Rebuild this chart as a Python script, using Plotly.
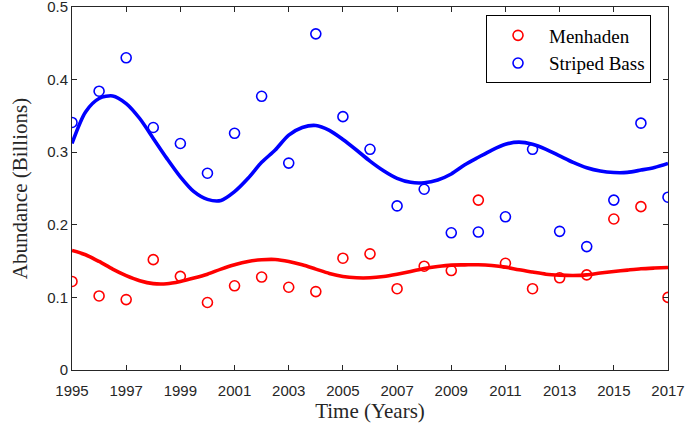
import plotly.graph_objects as go

years = list(range(1995, 2018))
menhaden = [0.122, 0.102, 0.097, 0.152, 0.129, 0.093, 0.116, 0.128, 0.114, 0.108, 0.154,
            0.160, 0.112, 0.143, 0.137, 0.234, 0.147, 0.112, 0.127, 0.131, 0.208, 0.225, 0.100]
striped_bass = [0.341, 0.384, 0.430, 0.334, 0.312, 0.271, 0.326, 0.377, 0.285, 0.463, 0.349,
                0.304, 0.226, 0.249, 0.189, 0.190, 0.211, 0.304, 0.191, 0.170, 0.234, 0.340, 0.238]

fit_t = [1995 + 0.5 * i for i in range(45)]
fit_bass = [0.312, 0.3555, 0.374, 0.3775, 0.367, 0.3464, 0.319, 0.2915, 0.266, 0.2456,
            0.235, 0.2335, 0.2456, 0.264, 0.286, 0.303, 0.3235, 0.334, 0.3368, 0.330,
            0.3175, 0.303, 0.2878, 0.2745, 0.264, 0.2585, 0.258, 0.2617, 0.270, 0.2826,
            0.293, 0.303, 0.311, 0.3139, 0.311, 0.304, 0.295, 0.286, 0.2786, 0.274,
            0.272, 0.2722, 0.2754, 0.279, 0.2846]
fit_menhaden = [0.1646, 0.1587, 0.1495, 0.139, 0.130, 0.123, 0.119, 0.1188, 0.122, 0.1266,
                0.132, 0.139, 0.145, 0.1495, 0.1518, 0.1522, 0.1495, 0.145, 0.139, 0.133,
                0.1288, 0.127, 0.127, 0.1288, 0.132, 0.1357, 0.1398, 0.1426, 0.1445, 0.1448,
                0.145, 0.144, 0.1417, 0.138, 0.1349, 0.132, 0.1307, 0.1302, 0.131, 0.1335,
                0.1357, 0.1376, 0.1394, 0.1404, 0.1412]

x_ticks = list(range(1995, 2018, 2))
y_ticks = [0, 0.1, 0.2, 0.3, 0.4, 0.5]
y_tick_text = ["0", "0.1", "0.2", "0.3", "0.4", "0.5"]

RED = "#ff0000"
BLUE = "#0000ff"
AX = "#262626"
SERIF = "Liberation Serif, Times New Roman, serif"

fig = go.Figure()
fig.add_trace(go.Scatter(x=years, y=menhaden, mode="markers", name="Menhaden",
                         marker=dict(symbol="circle-open", size=10, color=RED,
                                     line=dict(width=1.6, color=RED))))
fig.add_trace(go.Scatter(x=years, y=striped_bass, mode="markers", name="Striped Bass",
                         marker=dict(symbol="circle-open", size=10, color=BLUE,
                                     line=dict(width=1.6, color=BLUE))))
fig.add_trace(go.Scatter(x=fit_t, y=fit_menhaden, mode="lines", showlegend=False,
                         line=dict(color=RED, width=3.6, shape="spline", smoothing=0.8)))
fig.add_trace(go.Scatter(x=fit_t, y=fit_bass, mode="lines", showlegend=False,
                         line=dict(color=BLUE, width=3.6, shape="spline", smoothing=0.8)))

axis_common = dict(showline=True, linecolor=AX, linewidth=1, mirror="ticks",
                   ticks="inside", ticklen=5, tickcolor=AX, tickwidth=1,
                   showgrid=False, zeroline=False, ticklabeloverflow="allow",
                   automargin=False,
                   tickfont=dict(family="Liberation Sans, Arial", size=15, color=AX))

fig.update_layout(
    width=688, height=431,
    margin=dict(l=72, r=20, t=6.5, b=60.5),
    paper_bgcolor="white", plot_bgcolor="white",
    xaxis=dict(range=[1995, 2017], tickvals=x_ticks, ticktext=[str(v) for v in x_ticks],
               ticklabelstandoff=7,
               title=dict(text="Time (Years)", standoff=3,
                          font=dict(family=SERIF, size=21, color=AX)),
               **axis_common),
    yaxis=dict(range=[0, 0.5], tickvals=y_ticks, ticktext=y_tick_text,
               title=dict(text="Abundance (Billions)", standoff=13,
                          font=dict(family=SERIF, size=21, color=AX)),
               **axis_common),
    legend=dict(x=0.9715, y=0.9766, xanchor="right", yanchor="top",
                bordercolor="black", borderwidth=1, bgcolor="white",
                font=dict(family=SERIF, size=19, color="black"),
                itemwidth=52, tracegroupgap=0),
    showlegend=True,
)

fig.write_html("out.html", config={"displayModeBar": False},
               post_script="document.body.style.margin='0';")
